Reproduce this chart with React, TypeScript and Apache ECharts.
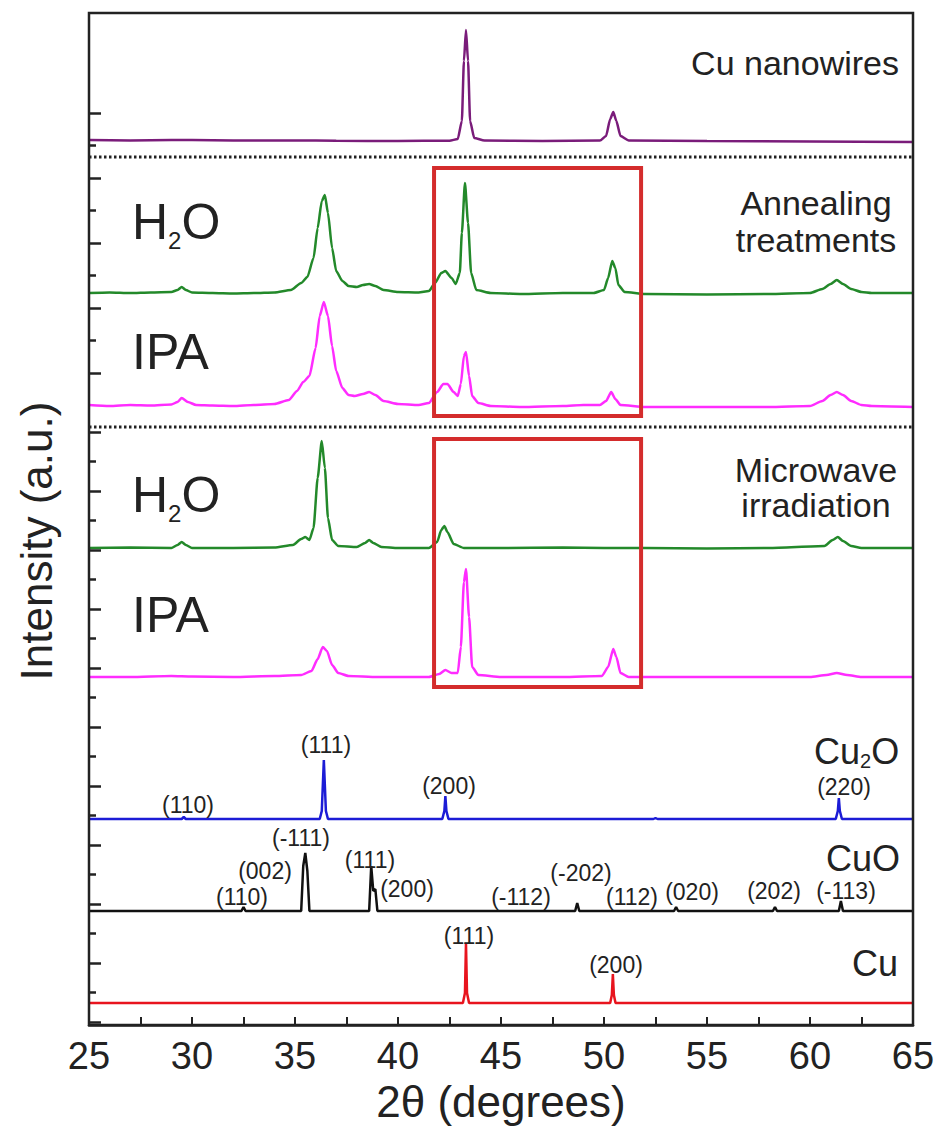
import { useEffect, useRef } from "react";
import * as echarts from "echarts";

const FONT = '"Liberation Sans", Arial, Helvetica, sans-serif';
const INK = "#222222";

// ---------- axis ----------
const X_TICK_LABELS = [25, 30, 35, 40, 45, 50, 55, 60, 65];
const X_AXIS_TITLE = "2θ (degrees)";
const Y_AXIS_TITLE = "Intensity (a.u.)";

// ---------- XRD patterns: [2θ (deg), intensity above own baseline (a.u.)] ----------
const cuNanowires: [number, number][] = [
  [25, 1], [27, 0.6], [29, 1], [31, 0.8], [33, 0.4], [35, 0.6], [37, 0.2], [40, 0], [42.5, 0.3],
  [42.9, 2], [43.1, 20], [43.2, 80], [43.3, 111], [43.4, 80], [43.5, 20], [43.7, 3], [44.2, 0.5],
  [47, 0], [49.8, 0.4], [50.1, 5], [50.3, 22], [50.45, 29], [50.6, 20], [50.8, 5], [51.2, 0.5],
  [55, 0], [60, -0.5], [65, -1],
];

const annealH2O: [number, number][] = [
  [25, 0], [26, 0.6], [27, 0], [28, 0.6], [29, 1], [29.3, 3], [29.5, 6], [29.7, 3], [30, 0.5],
  [31, 0], [32, -0.5], [33, 0], [34, 0.6], [34.8, 3], [35.3, 10], [35.6, 16], [35.9, 35],
  [36.1, 65], [36.3, 92], [36.45, 98], [36.6, 80], [36.8, 45], [37, 22], [37.3, 12], [37.6, 7],
  [38, 6], [38.3, 8], [38.6, 9], [38.9, 7], [39.3, 3], [40, 1], [41, 0.5], [41.5, 2],
  [41.8, 10], [42.1, 20], [42.3, 22], [42.6, 15], [42.8, 9], [43, 20], [43.1, 60], [43.25, 110],
  [43.4, 70], [43.55, 20], [43.8, 3], [44.5, 0], [46, -1], [48, 0], [49.5, 0], [50, 3],
  [50.2, 15], [50.4, 32], [50.55, 25], [50.7, 8], [51, 1], [52, -1], [55, -1.5], [58, -1],
  [60, 0], [60.6, 4], [61, 9], [61.3, 13], [61.6, 9], [62, 4], [62.5, 1], [63, 0], [65, 0],
];

const annealIPA: [number, number][] = [
  [25, 1], [26, 0], [27, 1], [28, 0.5], [29, 1.5], [29.3, 4], [29.5, 8], [29.8, 4], [30.2, 1],
  [31, 0.5], [32, 0], [33, 1], [34, 2], [34.7, 6], [35.1, 15], [35.4, 24], [35.7, 30], [36, 58],
  [36.2, 90], [36.4, 104], [36.6, 90], [36.8, 60], [37, 35], [37.3, 18], [37.6, 11], [37.9, 10],
  [38.3, 12], [38.6, 14], [38.9, 11], [39.3, 5], [40, 2], [41, 1], [41.5, 3], [41.9, 14],
  [42.2, 22], [42.4, 22], [42.7, 14], [42.9, 10], [43.05, 22], [43.2, 50], [43.3, 54],
  [43.45, 30], [43.6, 10], [43.9, 3], [44.5, 0], [46, -1], [48, 0], [49, 1], [49.8, 1],
  [50.1, 5], [50.35, 14], [50.55, 7], [50.8, 1], [52, -1], [55, -1], [58, -1], [60, 0],
  [60.6, 5], [61, 11], [61.3, 14], [61.6, 11], [62, 5], [62.5, 1], [63, 0], [65, -1],
];

const microH2O: [number, number][] = [
  [25, 0], [27, 0.5], [29, 0], [29.3, 3], [29.5, 6], [29.7, 3], [30, 0], [32, 0], [34, 0.5],
  [34.9, 3], [35.3, 9], [35.5, 11], [35.7, 8], [35.9, 20], [36.1, 70], [36.3, 107], [36.45, 80],
  [36.6, 30], [36.8, 8], [37.1, 2], [38, 1], [38.4, 5], [38.6, 8], [38.8, 5], [39.2, 1], [40, 0],
  [41.5, 0], [41.9, 6], [42.1, 18], [42.25, 22], [42.4, 16], [42.7, 4], [43.2, 0], [45, 0],
  [48, 0.5], [50, 0], [52, 0], [55, -0.5], [58, 0], [60.7, 2], [61.1, 8], [61.35, 11],
  [61.6, 7], [62, 2], [62.5, 0], [65, 0],
];

const microIPA: [number, number][] = [
  [25, 0], [27, 0], [29, 1], [30, 0.5], [32, 0], [34, 1], [35.3, 2], [35.8, 6], [36.1, 18],
  [36.35, 30], [36.55, 26], [36.8, 12], [37.1, 4], [37.6, 1], [39, 0], [41.5, 0], [42, 3],
  [42.3, 7], [42.6, 4], [42.9, 4], [43.05, 30], [43.2, 95], [43.3, 108], [43.45, 60], [43.6, 10],
  [43.9, 2], [45, 0], [48, 0], [49.9, 1], [50.2, 10], [50.45, 28], [50.6, 20], [50.8, 4],
  [51.2, 0], [55, 0], [60, 0], [60.8, 2], [61.3, 4], [61.8, 2], [62.5, 0], [65, 0],
];

const refCu2O: [number, number][] = [
  [25, 0], [29.5, 0], [29.6, 2], [29.7, 0], [36.2, 0], [36.3, 8], [36.4, 59], [36.5, 8], [36.6, 0],
  [42.15, 0], [42.25, 8], [42.3, 23], [42.35, 8], [42.45, 0], [52.4, 0], [52.5, 1], [52.6, 0],
  [61.25, 0], [61.35, 8], [61.4, 21], [61.45, 8], [61.55, 0], [65, 0],
];

const refCuO: [number, number][] = [
  [25, 0], [32.4, 0], [32.5, 4], [32.6, 0], [35.3, 0], [35.4, 45], [35.5, 58], [35.6, 40],
  [35.7, 0], [38.6, 0], [38.7, 45], [38.8, 20], [38.9, 22], [39.0, 0], [48.6, 0], [48.7, 8],
  [48.8, 0], [53.4, 0], [53.5, 4], [53.6, 0], [58.2, 0], [58.3, 4], [58.4, 0], [61.4, 0],
  [61.5, 10], [61.6, 0], [65, 0],
];

const refCu: [number, number][] = [
  [25, 0], [43.15, 0], [43.25, 10], [43.3, 60], [43.35, 10], [43.45, 0], [50.3, 0], [50.38, 8],
  [50.43, 29], [50.48, 8], [50.56, 0], [65, 0],
];

// ---------- reflection labels ----------
const cu2oHkl = ["(110)", "(111)", "(200)", "(220)"];
const cuoHkl = ["(110)", "(002)", "(-111)", "(111)", "(200)", "(-112)", "(-202)", "(112)", "(020)", "(202)", "(-113)"];
const cuHkl = ["(111)", "(200)"];

// ---------- layout (pixels) ----------
const W = 940;
const H = 1129;
const PL = 89, PR = 913, PT = 13, PB = 1025;
const cu2oHklPos = [[188, 805], [326, 745], [449, 786], [844, 787]];
const cuoHklPos = [[242, 897], [265, 871], [301, 838], [370, 860], [407, 889], [521, 897], [581, 873], [632, 897], [692, 892], [774, 891], [846, 891]];
const cuHklPos = [[469, 936], [616, 965]];
const BOX_X = [41.75, 51.8]; // 2θ range of the highlighted windows

const traces = [
  { name: "Cu nanowires", data: cuNanowires, color: "#7a1c7a", base: 141, smooth: 0.2 },
  { name: "Annealing H2O", data: annealH2O, color: "#23892a", base: 293, smooth: 0.2 },
  { name: "Annealing IPA", data: annealIPA, color: "#ff2cff", base: 406, smooth: 0.2 },
  { name: "Microwave H2O", data: microH2O, color: "#23892a", base: 548, smooth: 0.2 },
  { name: "Microwave IPA", data: microIPA, color: "#ff2cff", base: 677, smooth: 0.2 },
  { name: "Cu2O", data: refCu2O, color: "#1c1cd6", base: 819, smooth: 0 },
  { name: "CuO", data: refCuO, color: "#111111", base: 911, smooth: 0 },
  { name: "Cu", data: refCu, color: "#e8141e", base: 1003, smooth: 0 },
];

function txt(text: string, x: number, y: number, size: number, align = "center", extra: any = {}) {
  return {
    type: "text",
    x,
    y,
    silent: true,
    z: 50,
    ...extra,
    style: {
      text,
      fontSize: size,
      fontFamily: FONT,
      fill: INK,
      align,
      verticalAlign: "middle",
      textAlign: align,
      textVerticalAlign: "middle",
    },
  };
}

function formula(main1: string, sub: string, main2: string, x: number, cy: number, size: number, subSize: number, subDy: number) {
  const w1 = main1 === "H" ? 0.722 * size : (0.722 + 0.556) * size;
  const ws = 0.556 * subSize;
  return [
    txt(main1, x, cy, size, "left"),
    txt(sub, x + w1, cy + subDy, subSize, "left"),
    txt(main2, x + w1 + ws, cy, size, "left"),
  ];
}

export default function App() {
  const ref = useRef<HTMLDivElement>(null);

  useEffect(() => {
    if (!ref.current) return;
    const chart = echarts.init(ref.current, undefined, { renderer: "svg" });
    const xMin = X_TICK_LABELS[0];
    const xMax = X_TICK_LABELS[X_TICK_LABELS.length - 1];
    const xInt = X_TICK_LABELS[1] - X_TICK_LABELS[0];
    const gl = PL, gr = W - PR;

    const grids: any[] = [
      { left: gl, right: gr, top: PT, bottom: H - PB, show: true, borderColor: INK, borderWidth: 2.5, backgroundColor: "transparent", z: 10 },
      { left: gl, right: gr, top: 113, height: 260 },
      { left: gl, right: gr, top: 432, height: 590 },
      ...traces.map((t) => ({ left: gl, right: gr, top: t.base - 130, height: 140 })),
    ];

    const xAxes: any[] = grids.map((_, i) =>
      i === 0
        ? {
            gridIndex: 0, type: "value", min: xMin, max: xMax, interval: xInt,
            axisLine: { lineStyle: { color: INK, width: 2.5 } },
            axisTick: { inside: true, length: 8, lineStyle: { color: INK, width: 2 } },
            minorTick: { show: true, splitNumber: 2, length: 8, lineStyle: { color: INK, width: 2 } },
            axisLabel: { fontSize: 38, color: INK, margin: 12, fontFamily: FONT },
            splitLine: { show: false },
            name: X_AXIS_TITLE, nameLocation: "middle", nameGap: 54,
            nameTextStyle: { fontSize: 44, color: INK, fontFamily: FONT },
            z: 10,
          }
        : { gridIndex: i, type: "value", min: xMin, max: xMax, show: false }
    );

    const tickAxis = (gi: number, max: number) => ({
      gridIndex: gi, type: "value", min: 0, max, interval: 1,
      axisLine: { show: false },
      axisTick: { show: true, inside: true, length: 12, lineStyle: { color: INK, width: 2.5 } },
      minorTick: { show: true, splitNumber: 2, length: 7, lineStyle: { color: INK, width: 2.5 } },
      axisLabel: { show: false },
      splitLine: { show: false },
      z: 10,
    });

    const yAxes: any[] = [
      { gridIndex: 0, type: "value", min: 0, max: 1, show: false },
      tickAxis(1, 4),
      tickAxis(2, 10),
      ...traces.map((_, i) => ({ gridIndex: 3 + i, type: "value", min: -10, max: 130, show: false })),
    ];

    const series = traces.map((t, i) => ({
      name: t.name,
      type: "line",
      xAxisIndex: 3 + i,
      yAxisIndex: 3 + i,
      data: t.data,
      showSymbol: false,
      symbol: "none",
      smooth: t.smooth,
      smoothMonotone: "x",
      lineStyle: { color: t.color, width: 2.5 },
      z: 5,
    }));

    chart.setOption({
      animation: false,
      backgroundColor: "#ffffff",
      grid: grids,
      xAxis: xAxes,
      yAxis: yAxes,
      series,
    });

    const bx1 = chart.convertToPixel({ xAxisIndex: 0 }, BOX_X[0]) as number;
    const bx2 = chart.convertToPixel({ xAxisIndex: 0 }, BOX_X[1]) as number;

    const graphic: any[] = [
      { type: "line", silent: true, z: 20, shape: { x1: PL, y1: 157, x2: PR, y2: 157 }, style: { stroke: INK, lineWidth: 3, lineDash: [2.5, 2.5] } },
      { type: "line", silent: true, z: 20, shape: { x1: PL, y1: 427, x2: PR, y2: 427 }, style: { stroke: INK, lineWidth: 3, lineDash: [2.5, 2.5] } },
      { type: "rect", silent: true, z: 30, shape: { x: bx1, y: 168, width: bx2 - bx1, height: 248 }, style: { fill: "transparent", stroke: "#d42c2c", lineWidth: 4 } },
      { type: "rect", silent: true, z: 30, shape: { x: bx1, y: 439, width: bx2 - bx1, height: 248 }, style: { fill: "transparent", stroke: "#d42c2c", lineWidth: 4 } },
      txt(Y_AXIS_TITLE, 36, 541, 44, "center", { rotation: Math.PI / 2 }),
      txt("Cu nanowires", 899, 63, 34, "right"),
      txt("Annealing", 816, 203, 34, "center"),
      txt("treatments", 816, 240, 34, "center"),
      txt("Microwave", 816, 470, 34, "center"),
      txt("irradiation", 816, 505, 34, "center"),
      ...formula("H", "2", "O", 132, 222, 50, 24, 18),
      txt("IPA", 132, 352, 50, "left"),
      ...formula("H", "2", "O", 132, 495, 50, 24, 18),
      txt("IPA", 132, 615, 50, "left"),
      ...formula("Cu", "2", "O", 814, 751, 36, 20, 10),
      txt("CuO", 900, 858, 36, "right"),
      txt("Cu", 898, 963, 36, "right"),
      ...cu2oHkl.map((s, i) => txt(s, cu2oHklPos[i][0], cu2oHklPos[i][1], 23)),
      ...cuoHkl.map((s, i) => txt(s, cuoHklPos[i][0], cuoHklPos[i][1], 23)),
      ...cuHkl.map((s, i) => txt(s, cuHklPos[i][0], cuHklPos[i][1], 23)),
    ];

    chart.setOption({ graphic });

    return () => chart.dispose();
  }, []);

  return (
    <div
      ref={ref}
      style={{ position: "fixed", left: 0, top: 0, width: W, height: H, background: "#fff" }}
    />
  );
}
